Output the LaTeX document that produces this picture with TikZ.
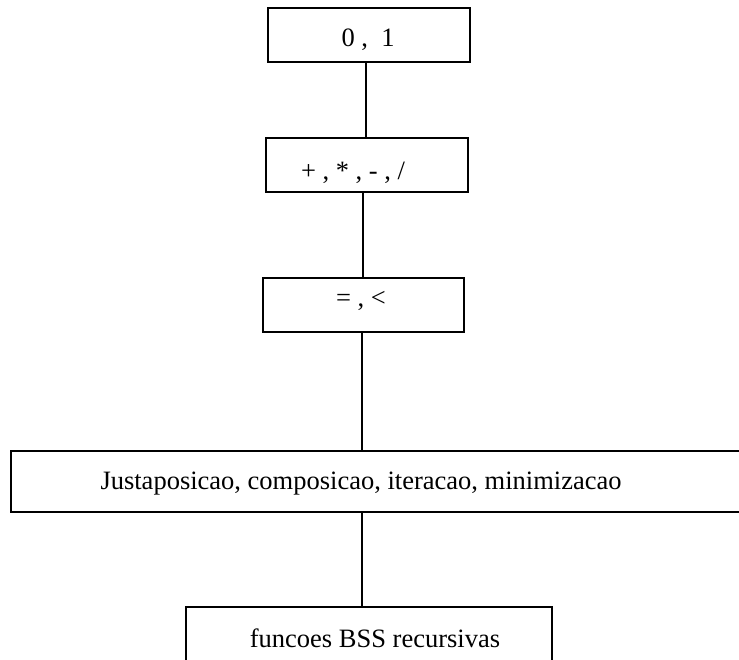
\documentclass[tikz,border=0pt]{standalone}
\usepackage{fontspec}
\setmainfont{Liberation Serif}
\begin{document}
\begin{tikzpicture}[x=1pt,y=-1pt,
  box/.style={draw=black,line width=1.5pt,rectangle,inner sep=0pt,anchor=north west},
  lbl/.style={font=\fontsize{26.5}{30}\selectfont,inner sep=0pt,anchor=base},
  link/.style={draw=black,line width=1.5pt}]
\useasboundingbox (0,0) rectangle (739,659);
% boxes (position = top-left corner, sizes given explicitly)
\node[box,minimum width=202pt,minimum height=54pt] (b1) at (267,7) {};
\node[box,minimum width=202pt,minimum height=54pt] (b2) at (265,137) {};
\node[box,minimum width=201pt,minimum height=54pt] (b3) at (262,277) {};
\node[box,minimum width=745pt,minimum height=61pt] (b4) at (10,450) {};
\node[box,minimum width=366pt,minimum height=70pt] (b5) at (185,606) {};
% labels
\node[lbl] (t1) at (368,46) {0 ,\ \ 1};
\node[lbl] (t2) at (353,179) {+ , * , - , /};
\node[lbl] (t3) at (361,306) {= , <};
\node[lbl] (t4) at (361,489) {Justaposicao, composicao, iteracao, minimizacao};
\node[lbl] (t5) at (375,647) {funcoes BSS recursivas};
% connectors
\draw[link] (b1.south -| 366,0) -- (b2.north -| 366,0);
\draw[link] (b2.south -| 363,0) -- (b3.north -| 363,0);
\draw[link] (b3.south -| 362,0) -- (b4.north -| 362,0);
\draw[link] (b4.south -| 362,0) -- (b5.north -| 362,0);
\end{tikzpicture}
\end{document}
